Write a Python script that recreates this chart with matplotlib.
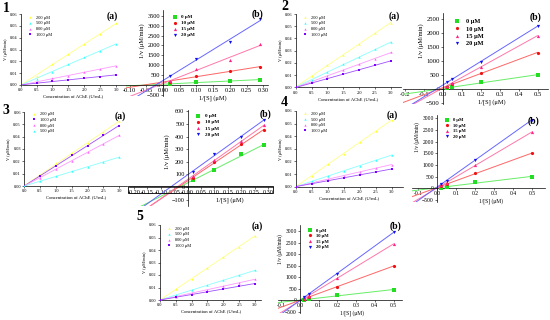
import numpy as np
import matplotlib
matplotlib.use("Agg")
import matplotlib.pyplot as plt
from matplotlib.patches import Rectangle

plt.rcParams["font.family"] = ["Liberation Serif", "DejaVu Serif"]
plt.rcParams["mathtext.default"] = "regular"

W, H = 550, 320

# ---------------- data ----------------
# (a) panels: rate vs enzyme concentration
ache_x = [0.0, 0.5, 1.0, 1.5, 2.0, 2.5, 3.0]
sub_labels = ["200 μM", "500 μM", "800 μM", "1000 μM"]

p1a_200 = [0.0, 0.0080, 0.0180, 0.0262, 0.0346, 0.0430, 0.0520]
p1a_500 = [0.0, 0.0054, 0.0113, 0.0177, 0.0234, 0.0290, 0.0344]
p1a_800 = [0.0, 0.0025, 0.0056, 0.0078, 0.0110, 0.0132, 0.0163]
p1a_1000 = [0.0, 0.0014, 0.0035, 0.0042, 0.0056, 0.0070, 0.0087]

p2a_200 = [0.0, 0.0093, 0.0185, 0.0262, 0.0355, 0.0445, 0.0530]
p2a_500 = [0.0, 0.0062, 0.0125, 0.0187, 0.0250, 0.0310, 0.0368]
p2a_800 = [0.0, 0.0045, 0.0095, 0.0140, 0.0190, 0.0235, 0.0286]
p2a_1000 = [0.0, 0.0035, 0.0070, 0.0105, 0.0145, 0.0180, 0.0218]

p3a_200 = [0.0, 0.0087, 0.0185, 0.0265, 0.0352, 0.0437, 0.0524]
p3a_1000 = [0.0, 0.0082, 0.0165, 0.0248, 0.0325, 0.0410, 0.0490]
p3a_800 = [0.0, 0.0068, 0.0137, 0.0205, 0.0275, 0.0340, 0.0410]
p3a_500 = [0.0, 0.0039, 0.0078, 0.0118, 0.0156, 0.0195, 0.0233]

p4a_200 = [0.0, 0.0088, 0.0178, 0.0262, 0.0352, 0.0440, 0.0529]
p4a_500 = [0.0, 0.0042, 0.0085, 0.0125, 0.0168, 0.0210, 0.0250]
p4a_800 = [0.0, 0.0030, 0.0060, 0.0088, 0.0118, 0.0147, 0.0175]
p4a_1000 = [0.0, 0.0024, 0.0047, 0.0071, 0.0094, 0.0117, 0.0140]

p5a_200 = [0.0, 0.0085, 0.0172, 0.0257, 0.0342, 0.0428, 0.0513]
p5a_500 = [0.0, 0.0040, 0.0079, 0.0119, 0.0158, 0.0198, 0.0237]
p5a_800 = [0.0, 0.0028, 0.0055, 0.0083, 0.0110, 0.0138, 0.0166]
p5a_1000 = [0.0, 0.0022, 0.0044, 0.0066, 0.0088, 0.0110, 0.0132]

# (b) panels: Lineweaver-Burk, 1/v vs 1/[S]
inh_labels = ["0 μM", "10 μM", "15 μM", "20 μM"]
p1b_x = [0.02, 0.10, 0.20, 0.29]
p1b_0 = [30, 152, 219, 253]
p1b_10 = [168, 455, 724, 892]
p1b_15 = [219, 791, 1263, 2070]
p1b_20 = [455, 1297, 2190, 3317]

p2b_x = [0.02, 0.05, 0.20, 0.50]
p2b_0 = [25, 60, 250, 500]
p2b_10 = [85, 180, 570, 1300]
p2b_15 = [110, 225, 800, 1900]
p2b_20 = [250, 345, 965, 2250]

p3b_x = [0.02, 0.10, 0.20, 0.286]
p3b_0 = [52, 137, 262, 330]
p3b_10 = [70, 200, 342, 452]
p3b_15 = [85, 218, 362, 490]
p3b_20 = [121, 262, 395, 535]

p4b_x = [0.02, 0.05, 0.20, 0.50]
p4b_0 = [30, 60, 250, 500]
p4b_10 = [85, 170, 640, 1500]
p4b_15 = [120, 215, 1000, 2400]
p4b_20 = [185, 315, 1200, 2930]

p5b_x = [0.02, 0.05, 0.20, 0.50]
p5b_0 = [20, 45, 220, 460]
p5b_10 = [70, 140, 600, 1490]
p5b_15 = [100, 190, 970, 2450]
p5b_20 = [160, 260, 1160, 2960]

# ---------------- styles ----------------
SUB_STYLE = {
    "200 μM": ("#ffff33", "#ffff88", "^"),
    "500 μM": ("#33ffff", "#88ffff", "^"),
    "800 μM": ("#ff66ff", "#ff99ff", "^"),
    "1000 μM": ("#7a00ff", "#a050ff", "s"),
}
INH_STYLE = [
    ("#22dd22", "#66ee66", "s"),
    ("#ee1111", "#ff6666", "o"),
    ("#ff2288", "#ff77aa", "^"),
    ("#1111ee", "#6666ff", "v"),
]


def px_rect(x0, y0, x1, y1):
    return [x0 / W, 1 - y1 / H, (x1 - x0) / W, (y1 - y0) / H]


def fig_text(fig, x, y, s, size, **kw):
    fig.text(x / W, 1 - y / H, s, ha="center", va="center", fontsize=size,
             fontweight="bold", **kw)


def rate_panel(fig, rect, series, labels, xmax, leg_anchor):
    ax = fig.add_axes(rect)
    xs = np.array(ache_x)
    for vals, lab in zip(series, labels):
        mc, lc, mk = SUB_STYLE[lab]
        k = np.polyfit(xs, vals, 1)
        xx = np.array([0.0, 3.0])
        ax.plot(xx, np.polyval(k, xx), color=lc, lw=0.6, zorder=2)
        ax.plot(xs, vals, mk, color=mc, ms=1.7, mew=0, ls="none", label=lab, zorder=3)
    ax.set_xlim(0, xmax)
    ax.set_ylim(0, 0.06)
    ax.set_xticks(np.arange(0, 3.01, 0.5))
    ax.set_yticks(np.arange(0, 0.061, 0.01))
    ax.xaxis.set_major_formatter(plt.FormatStrFormatter("%.1f"))
    ax.yaxis.set_major_formatter(plt.FormatStrFormatter("%.2f"))
    for s in ("top", "right"):
        ax.spines[s].set_visible(False)
    for s in ("left", "bottom"):
        ax.spines[s].set_linewidth(0.5)
    ax.tick_params(labelsize=3.2, length=1.2, width=0.4, pad=1.2)
    ax.set_xlabel("Concentration of AChE (U/mL)", fontsize=3.4, labelpad=1.5)
    ax.set_ylabel("V (μM/min)", fontsize=3.2, labelpad=1.5)
    ax.legend(loc="upper left", bbox_to_anchor=leg_anchor, fontsize=3.2, frameon=False,
              handlelength=1.0, handletextpad=0.8, labelspacing=0.35, borderpad=0.2)
    return ax


def lb_panel(fig, x0px, y0px, xscale, yscale, xlim, ylim, xs, series, xticks, yticks,
             xfmt, tsize, lsize, label_pos, leg_anchor, leg_size):
    # x0px, y0px: pixel location of the data origin; xscale/yscale: px per data unit
    rect = px_rect(x0px + xlim[0] * xscale, y0px - ylim[1] * yscale,
                   x0px + xlim[1] * xscale, y0px - ylim[0] * yscale)
    ax = fig.add_axes(rect)
    ax.patch.set_alpha(0)
    xs = np.array(xs)
    for vals, lab, (mc, lc, mk) in zip(series, inh_labels, INH_STYLE):
        k = np.polyfit(xs, vals, 1)
        xx = np.array([xlim[0], xs[-1]])
        ax.plot(xx, np.polyval(k, xx), color=lc, lw=0.7, zorder=2)
        ax.plot(xs, vals, mk, color=mc, ms=2.3, mew=0, ls="none", label=lab, zorder=3)
    ax.set_xlim(*xlim)
    ax.set_ylim(*ylim)
    ax.set_xticks(xticks)
    ax.set_yticks(yticks)
    ax.xaxis.set_major_formatter(plt.FormatStrFormatter(xfmt))
    ax.spines["left"].set_position(("data", 0))
    ax.spines["bottom"].set_position(("data", 0))
    for s in ("top", "right"):
        ax.spines[s].set_visible(False)
    for s in ("left", "bottom"):
        ax.spines[s].set_linewidth(0.5)
    ax.tick_params(labelsize=tsize, length=1.3, width=0.4, pad=1.0)
    ax.set_xlabel("1/[S] (μM)", fontsize=lsize, labelpad=1.2)
    ax.set_ylabel("1/v (μM/min)", fontsize=lsize, labelpad=1.2)
    ax.xaxis.label.set_x(label_pos[0])
    ax.yaxis.label.set_y(label_pos[1])
    ax.legend(loc="upper left", bbox_to_anchor=leg_anchor, frameon=False,
              prop={"size": leg_size, "weight": "bold"},
              handlelength=1.0, handletextpad=0.8, labelspacing=0.3, borderpad=0.2)
    return ax


fig = plt.figure(figsize=(W / 100, H / 100), dpi=100)

# ---- row 1 ----
rate_panel(fig, px_rect(20.7, 14, 125.6, 85), [p1a_200, p1a_500, p1a_800, p1a_1000],
           sub_labels, 3.3, (0.04, 1.02))
lb_panel(fig, 163, 85, 334, 9.9 / 500, (-0.11, 0.315), (-550, 3800), p1b_x,
         [p1b_0, p1b_10, p1b_15, p1b_20], np.arange(-0.10, 0.301, 0.05),
         np.arange(-500, 3501, 500), "%.2f", 4.6, 4.6, (0.61, 0.64), (0.3, 0.98), 3.6)

rate_panel(fig, px_rect(295.7, 14, 400.5, 87.3), [p2a_200, p2a_500, p2a_800, p2a_1000],
           sub_labels, 3.3, (0.04, 1.02))
lb_panel(fig, 443, 89, 189, 14 / 500, (-0.21, 0.555), (-540, 2700), p2b_x,
         [p2b_0, p2b_10, p2b_15, p2b_20], np.arange(-0.2, 0.501, 0.1),
         np.arange(-500, 2501, 500), "%.1f", 4.8, 4.6, (0.61, 0.7), (0.32, 0.99), 4.6)

# ---- row 2 ----
rate_panel(fig, px_rect(24.3, 112, 127, 186), [p3a_200, p3a_1000, p3a_800, p3a_500],
           ["200 μM", "1000 μM", "800 μM", "500 μM"], 3.25, (0.04, 1.04))
lb_panel(fig, 187.6, 187, 268, 12.6 / 100, (-0.22, 0.32), (-150, 610), p3b_x,
         [p3b_0, p3b_10, p3b_15, p3b_20], np.arange(-0.20, 0.301, 0.05),
         np.arange(-100, 601, 100), "%.2f", 4.4, 4.6, (0.7, 0.57), (0.44, 1.0), 3.7)
fig.patches.append(Rectangle((128 / W, 1 - 192.5 / H), 145 / W, 6.5 / H, fill=False,
                             edgecolor="black", lw=0.6, transform=fig.transFigure))

rate_panel(fig, px_rect(295.7, 111, 402.9, 186.7), [p4a_200, p4a_500, p4a_800, p4a_1000],
           sub_labels, 3.35, (0.04, 1.03))
lb_panel(fig, 437, 188.3, 190, 11.7 / 500, (-0.13, 0.57), (-570, 3140), p4b_x,
         [p4b_0, p4b_10, p4b_15, p4b_20], np.arange(-0.1, 0.501, 0.1),
         np.arange(-500, 3001, 500), "%.1f", 4.1, 4.0, (0.59, 0.74), (0.22, 1.0), 3.3)

# ---- row 3 ----
rate_panel(fig, px_rect(160, 225, 261.3, 300), [p5a_200, p5a_500, p5a_800, p5a_1000],
           sub_labels, 3.2, (0.04, 1.02))
lb_panel(fig, 300, 300.3, 187, 11.5 / 500, (-0.12, 0.545), (-560, 3270), p5b_x,
         [p5b_0, p5b_10, p5b_15, p5b_20], np.arange(-0.1, 0.501, 0.1),
         np.arange(-500, 3001, 500), "%.1f", 4.1, 4.0, (0.6, 0.73), (0.22, 1.0), 3.3)

# panel numbers and letters
for num, (x, y) in zip("12345", [(6, 8), (285, 7), (6, 110), (284, 103), (140, 216)]):
    fig_text(fig, x, y, num, 10)
for x, y in [(112, 16), (394, 16), (120, 116), (392, 115), (257, 226)]:
    fig_text(fig, x, y, "(a)", 7)
for x, y in [(258, 14), (535, 17), (265, 114), (533, 121), (396, 226)]:
    fig_text(fig, x, y, "(b)", 7)

fig.savefig("out.png", dpi=100)
